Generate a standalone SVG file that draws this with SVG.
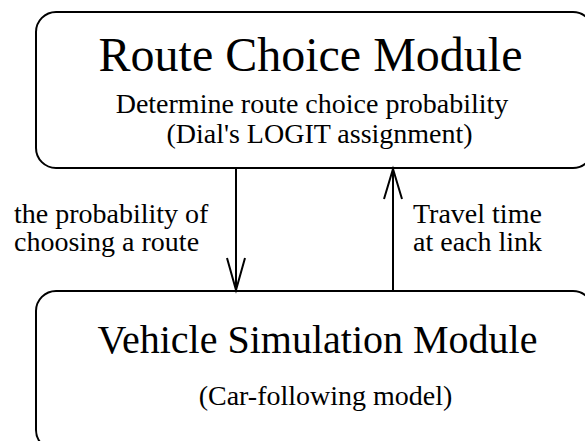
<svg xmlns="http://www.w3.org/2000/svg" width="585" height="441" viewBox="0 0 585 441">
<style>
.box{fill:#fff;stroke:#000;stroke-width:2}
.t{font-family:"Liberation Serif","Times New Roman",serif;fill:#000}
.big{font-size:48px;text-anchor:middle}
.big2{font-size:40px;text-anchor:middle}
.sub{font-size:28px;text-anchor:middle}
.lbl{font-size:28px}
.c{stroke:#000;stroke-width:2;fill:none}
</style>
<rect width="585" height="441" fill="#fff"/>
<g id="route-choice">
<rect class="box" x="36" y="12" width="557" height="156" rx="20" ry="20"/>
<text class="t big" x="310.5" y="71">Route Choice Module</text>
<text class="t sub" x="312" y="113">Determine route choice probability</text>
<text class="t sub" x="319.5" y="143">(Dial's LOGIT assignment)</text>
</g>
<g id="vehicle-sim">
<rect class="box" x="36" y="291" width="557" height="159" rx="20" ry="20"/>
<text class="t big2" x="317.5" y="353">Vehicle Simulation Module</text>
<text class="t sub" x="325.5" y="405">(Car-following model)</text>
</g>
<g id="connectors">
<path class="c" d="M236 168V290M227 258L236 290L245 258"/>
<path class="c" d="M393 291V169M384 199L393 169L402 199"/>
<text class="t lbl" x="14" y="223">the probability of</text>
<text class="t lbl" x="14" y="251">choosing a route</text>
<text class="t lbl" x="413" y="223">Travel time</text>
<text class="t lbl" x="413" y="251">at each link</text>
</g>
</svg>
